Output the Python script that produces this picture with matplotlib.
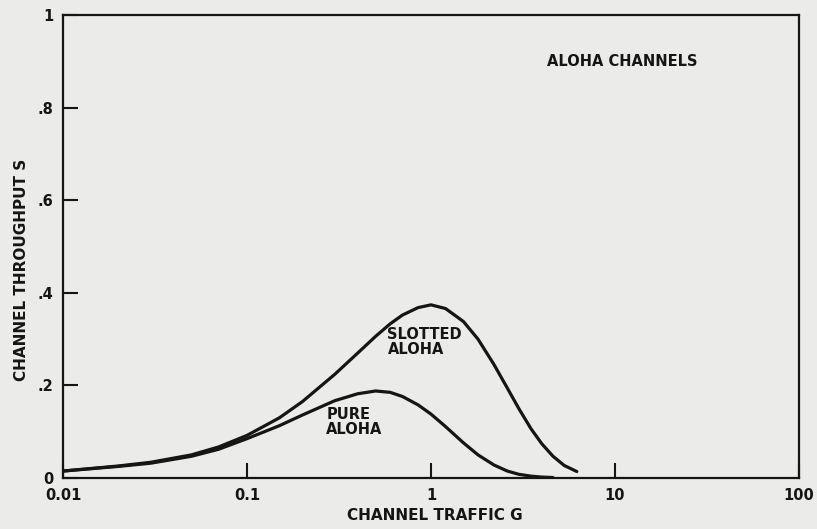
import matplotlib.pyplot as plt

# channel traffic G (log axis) and throughput S
traffic = [0.01, 0.02, 0.03, 0.05, 0.07, 0.1, 0.15, 0.2, 0.3, 0.4, 0.5, 0.6,
           0.7, 0.85, 1.0, 1.2, 1.5, 1.8, 2.2, 2.6, 3.0, 3.5, 4.0, 4.6, 5.3, 6.2]
slotted = [0.015, 0.026, 0.034, 0.050, 0.067, 0.092, 0.130, 0.165, 0.224,
           0.270, 0.306, 0.333, 0.352, 0.368, 0.374, 0.366, 0.338, 0.300,
           0.245, 0.194, 0.150, 0.106, 0.074, 0.047, 0.027, 0.014]
pure_traffic = traffic[:-2]
pure = [0.015, 0.025, 0.032, 0.047, 0.062, 0.085, 0.113, 0.136, 0.167,
        0.182, 0.188, 0.185, 0.176, 0.158, 0.138, 0.111, 0.076, 0.050,
        0.028, 0.015, 0.008, 0.004, 0.002, 0.001]

xticks = [0.01, 0.1, 1, 10, 100]
xlabels = ["0.01", "0.1", "1", "10", "100"]
yticks = [0, 0.2, 0.4, 0.6, 0.8, 1.0]
ylabels = ["0", ".2", ".4", ".6", ".8", "1"]

bg = "#ebebe9"
ink = "#151515"

plt.rcParams['font.family'] = ['DejaVu Sans']

fig = plt.figure(figsize=(8.17, 5.29), dpi=100, facecolor=bg)
ax = fig.add_axes([0.0771, 0.0964, 0.9009, 0.8752], facecolor=bg)

ax.plot(traffic, slotted, color=ink, lw=2.3, solid_capstyle="round")
ax.plot(pure_traffic, pure, color=ink, lw=2.3, solid_capstyle="round")

ax.set_xscale("log")
ax.set_xlim(0.01, 100)
ax.set_ylim(0, 1)
ax.set_xticks(xticks)
ax.set_xticklabels(xlabels, fontweight="bold")
ax.set_yticks(yticks)
ax.set_yticklabels(ylabels, fontweight="bold")
ax.minorticks_off()
ax.tick_params(direction="in", length=11, width=1.5, color=ink,
               labelcolor=ink, labelsize=10.5)
ax.tick_params(axis="y", pad=7)
ax.tick_params(axis="x", pad=7)
for s in ax.spines.values():
    s.set_linewidth(1.6)
    s.set_color(ink)

ax.text(0.658, 0.90, "ALOHA CHANNELS", transform=ax.transAxes, fontsize=10.5,
        color=ink, fontweight="bold", va="center")
ax.text(0.58, 0.326, "SLOTTED\nALOHA", fontsize=10.5, color=ink,
        fontweight="bold", linespacing=1.0, va="top")
ax.text(0.27, 0.153, "PURE\nALOHA", fontsize=10.5, color=ink,
        fontweight="bold", linespacing=1.0, va="top")

fig.text(435 / 817, 1 - 515 / 529, "CHANNEL TRAFFIC G", ha="center",
         va="center", fontsize=11, color=ink, fontweight="bold")
fig.text(22 / 817, 1 - 270 / 529, "CHANNEL THROUGHPUT S", ha="center",
         va="center", rotation=90, fontsize=11, color=ink, fontweight="bold")

fig.savefig("out.png", dpi=100, facecolor=bg)
